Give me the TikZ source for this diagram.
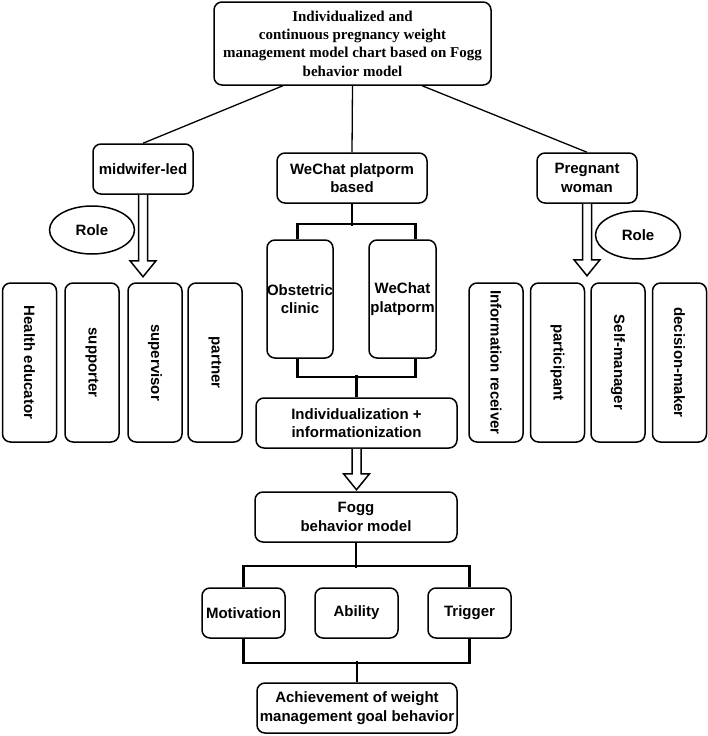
\documentclass[tikz,border=0pt]{standalone}
\usepackage{fontspec}
\setmainfont{Liberation Serif}
\setsansfont{Liberation Sans}
\usetikzlibrary{positioning,calc,shapes.geometric}

\newcommand{\hollowarrow}[2]{%
  \draw[blk] ($(#1)+(-4.5,0)$) -- ($(#2)+(-4.5,-16)$) -- ($(#2)+(-13,-16)$) -- (#2)
    -- ($(#2)+(13,-16)$) -- ($(#2)+(4.5,-16)$) -- ($(#1)+(4.5,0)$);}

\begin{document}
\begin{tikzpicture}[x=1pt,y=-1pt,
  font=\fontsize{15}{18.3}\selectfont\sffamily\bfseries,
  box/.style={draw=black,line width=1.5pt,rounded corners=8pt,align=center,minimum height=50pt,inner sep=2pt,fill=white},
  rolebox/.style={box,rotate=-90,minimum width=159pt,minimum height=54pt},
  roleell/.style={draw=black,line width=1.5pt,ellipse,minimum width=85pt,minimum height=48pt},
  link/.style={line width=1.3pt},
  brk/.style={line width=2.4pt},
  blk/.style={line width=1.5pt,fill=white,line join=miter}]
  \useasboundingbox (0,0) rectangle (708,736);
  \node[box,font=\fontsize{15}{18.3}\selectfont\rmfamily\bfseries,minimum width=277pt,minimum height=83pt] (title) at (352.5,43.5) {Individualized and\\ continuous pregnancy weight\\ management model chart based on Fogg\\ behavior model};
  \node[box,minimum width=100pt] (midw) at (143,169) {midwifer-led};
  \node[box,minimum width=150pt] (wcb) at (352,178) {WeChat platporm\\ based};
  \node[box,minimum width=100pt] (preg) at (587,178) {Pregnant\\ woman};
  \node[roleell] (roleL) at (92,230) {Role};
  \node[roleell] (roleR) at (638,235) {Role};
  \node[rolebox] (educ) at (29.5,362.5) {Health educator};
  \node[rolebox] (supp) at (92,362.5) {supporter};
  \node[rolebox] (superv) at (155,362.5) {supervisor};
  \node[rolebox] (partn) at (215,362.5) {partner};
  \node[rolebox] (inforec) at (496,362.5) {Information receiver};
  \node[rolebox] (partic) at (557.5,362.5) {participant};
  \node[rolebox] (selfm) at (618,362.5) {Self-manager};
  \node[rolebox] (decis) at (679.5,362.5) {decision-maker};
  \node[box,minimum width=66pt,minimum height=118pt,inner sep=0pt] (clinic) at (300,299) {Obstetric\\ clinic};
  \node[box,minimum width=67pt,minimum height=118pt,inner sep=0pt] (wplat) at (402.5,299) {WeChat\\ platporm};
  \node[box,minimum width=201pt] (indiv) at (356.5,423) {Individualization +\\ informationization};
  \node[box,minimum width=202pt] (fogg) at (356,517) {Fogg\\ behavior model};
  \node[box,minimum width=83pt] (motiv) at (243.5,613) {Motivation};
  \node[box,minimum width=83pt] (abil) at (356.5,613) {Ability};
  \node[box,minimum width=83pt] (trig) at (469.5,613) {Trigger};
  \node[box,minimum width=200pt] (goal) at (357,708) {Achievement of weight\\ management goal behavior};
  \draw[link] ($(title.south west)!0.25!(title.south east)$) -- (midw.north);
  \draw[link] (title.south) -- (wcb.north);
  \draw[link] ($(title.south west)!0.75!(title.south east)$) -- (preg.north);
  \draw[brk] (wcb.south) -- ++(0,22);
  \draw[brk] ([xshift=-2.5pt]clinic.north) -- ++(0,-15) -| ([xshift=13pt]wplat.north);
  \draw[brk] ([xshift=-2.5pt]clinic.south) -- ++(0,18) -| ([xshift=13pt]wplat.south);
  \draw[brk] (indiv.north) -- ++(0,-22);
  \draw[brk] (fogg.south) -- ++(0,25);
  \draw[brk] (motiv.north) -- ++(0,-21) -| (trig.north);
  \draw[brk] (motiv.south) -- ++(0,24) -| (trig.south);
  \draw[brk] (goal.north) -- ++(0,-21);
  \coordinate (tipL) at ($(midw.south)+(0,82)$);
  \coordinate (tipR) at ($(preg.south)+(0,72)$);
  \coordinate (tipM) at ($(indiv.south)+(0,41)$);
  \hollowarrow{midw.south}{tipL}
  \hollowarrow{preg.south}{tipR}
  \hollowarrow{indiv.south}{tipM}
\end{tikzpicture}
\end{document}
